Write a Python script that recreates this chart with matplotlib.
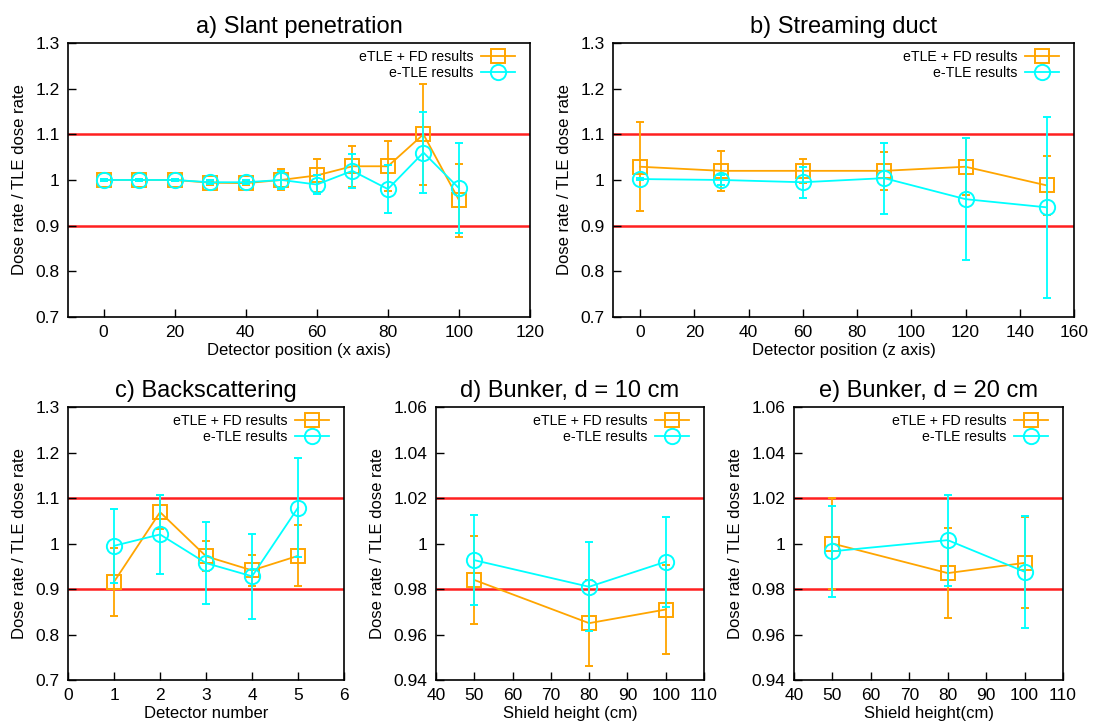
import matplotlib
matplotlib.use("Agg")
import matplotlib.pyplot as plt
from matplotlib.lines import Line2D

plt.rcParams["font.family"] = ["Liberation Sans", "DejaVu Sans"]

ORANGE = "#ffa500"
CYAN = "#00ffff"
RED = "#ff2020"

# a) Slant penetration
a_x = [0, 10, 20, 30, 40, 50, 60, 70, 80, 90, 100]
a_fd = [1.0, 1.0, 1.0, 0.994, 0.993, 1.0, 1.01, 1.03, 1.03, 1.1, 0.956]
a_fd_err = [0.003, 0.003, 0.003, 0.004, 0.004, 0.023, 0.037, 0.045, 0.055, 0.11, 0.08]
a_tle = [1.0, 1.0, 1.0, 0.995, 0.995, 1.0, 0.99, 1.02, 0.98, 1.06, 0.982]
a_tle_err = [0.002, 0.002, 0.002, 0.004, 0.004, 0.02, 0.02, 0.037, 0.052, 0.088, 0.098]

# b) Streaming duct
b_x = [0, 30, 60, 90, 120, 150]
b_fd = [1.029, 1.02, 1.02, 1.02, 1.029, 0.988]
b_fd_err = [0.098, 0.044, 0.027, 0.041, 0.062, 0.064]
b_tle = [1.002, 1.0, 0.995, 1.004, 0.958, 0.94]
b_tle_err = [0.003, 0.01, 0.034, 0.078, 0.133, 0.198]

# c) Backscattering
c_x = [1, 2, 3, 4, 5]
c_fd = [0.916, 1.069, 0.972, 0.941, 0.973]
c_fd_err = [0.075, 0.037, 0.033, 0.034, 0.067]
c_tle = [0.995, 1.02, 0.957, 0.928, 1.079]
c_tle_err = [0.082, 0.087, 0.09, 0.093, 0.108]

# d) Bunker, d = 10 cm
d_x = [50, 80, 100]
d_fd = [0.984, 0.965, 0.971]
d_fd_err = [0.0195, 0.019, 0.0195]
d_tle = [0.9927, 0.981, 0.992]
d_tle_err = [0.0199, 0.0196, 0.0197]

# e) Bunker, d = 20 cm
e_x = [50, 80, 100]
e_fd = [1.0, 0.987, 0.9915]
e_fd_err = [0.02, 0.0198, 0.02]
e_tle = [0.9966, 1.0015, 0.9876]
e_tle_err = [0.02, 0.02, 0.0246]

big_ticks = [0.7, 0.8, 0.9, 1.0, 1.1, 1.2, 1.3]
big_labels = ["0.7", "0.8", "0.9", "1", "1.1", "1.2", "1.3"]
small_ticks = [0.94, 0.96, 0.98, 1.0, 1.02, 1.04, 1.06]
small_labels = ["0.94", "0.96", "0.98", "1", "1.02", "1.04", "1.06"]

W, H = 1094, 727
fig = plt.figure(figsize=(W / 100, H / 100), dpi=100)

panels = [
    # rect, title, xlabel, data, xlim, xticks, yticks, ylabels, limits band
    ([0.0622, 0.564, 0.4223, 0.3769], "a) Slant penetration", "Detector position (x axis)",
     (a_x, a_fd, a_fd_err, a_tle, a_tle_err), (-10, 120), range(0, 121, 20),
     big_ticks, big_labels, (0.9, 1.1)),
    ([0.5603, 0.564, 0.4214, 0.3769], "b) Streaming duct", "Detector position (z axis)",
     (b_x, b_fd, b_fd_err, b_tle, b_tle_err), (-10, 160), range(0, 161, 20),
     big_ticks, big_labels, (0.9, 1.1)),
    ([0.0622, 0.0646, 0.2523, 0.3755], "c) Backscattering", "Detector number",
     (c_x, c_fd, c_fd_err, c_tle, c_tle_err), (0, 6), range(0, 7),
     big_ticks, big_labels, (0.9, 1.1)),
    ([0.3985, 0.0646, 0.2450, 0.3755], "d) Bunker, d = 10 cm", "Shield height (cm)",
     (d_x, d_fd, d_fd_err, d_tle, d_tle_err), (40, 110), range(40, 111, 10),
     small_ticks, small_labels, (0.98, 1.02)),
    ([0.7258, 0.0646, 0.2459, 0.3755], "e) Bunker, d = 20 cm", "Shield height(cm)",
     (e_x, e_fd, e_fd_err, e_tle, e_tle_err), (40, 110), range(40, 111, 10),
     small_ticks, small_labels, (0.98, 1.02)),
]

style = dict(mfc="none", mew=1.4, lw=1.3)
handles = [
    Line2D([], [], color=ORANGE, marker="s", ms=10, **style),
    Line2D([], [], color=CYAN, marker="o", ms=11, **style),
]
names = ["eTLE + FD results", "e-TLE results"]

for rect, title, xlabel, data, xlim, xticks, yticks, ylabels, band in panels:
    x, fd, fd_err, tle, tle_err = data
    ax = fig.add_axes(rect)
    for yb in band:
        ax.axhline(yb, color=RED, lw=1.8, zorder=1)
    ax.errorbar(x, fd, yerr=fd_err, color=ORANGE, marker="s", ms=10,
                elinewidth=1.3, capsize=3, capthick=1.3, zorder=3, **style)
    ax.errorbar(x, tle, yerr=tle_err, color=CYAN, marker="o", ms=11,
                elinewidth=1.3, capsize=3, capthick=1.3, zorder=4, **style)
    ax.set_xlim(*xlim)
    ax.set_ylim(yticks[0], yticks[-1])
    ax.set_xticks(list(xticks))
    ax.set_yticks(yticks)
    ax.set_yticklabels(ylabels)
    ax.tick_params(direction="in", length=6, width=1, labelsize=12.5,
                   top=False, right=False, pad=6)
    for s in ax.spines.values():
        s.set_linewidth(1.2)
    ax.set_xlabel(xlabel, fontsize=12, labelpad=2)
    ax.set_ylabel("Dose rate / TLE dose rate", fontsize=12, labelpad=6)
    ax.set_title(title, fontsize=17, pad=7)
    # legend sits a few pixels in from the right edge, tight to the top
    shift = 8 / (rect[2] * W)
    ax.legend(handles, names, loc="upper right", bbox_to_anchor=(1 - shift, 1),
              frameon=False, markerfirst=False, fontsize=10.2, handlelength=2.4,
              handletextpad=0.55, labelspacing=0.15, borderaxespad=0.3, borderpad=0.2)

fig.savefig("out.png", dpi=100)
